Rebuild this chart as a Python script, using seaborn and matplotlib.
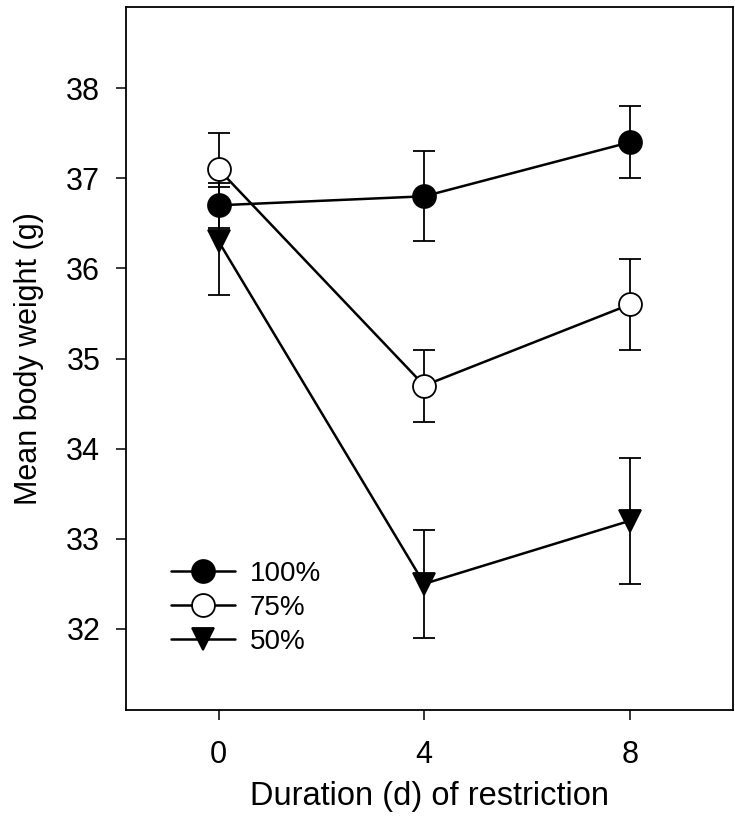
import numpy as np
import pandas as pd
import matplotlib
matplotlib.use("Agg")
import matplotlib.pyplot as plt
import seaborn as sns

days = [0, 4, 8]
groups = ["100%", "75%", "50%"]
mean_100 = [36.7, 36.8, 37.4]
err_100 = [0.25, 0.5, 0.4]
mean_75 = [37.1, 34.7, 35.6]
err_75 = [0.4, 0.4, 0.5]
mean_50 = [36.3, 32.5, 33.2]
err_50 = [0.6, 0.6, 0.7]

errs = {"100%": err_100, "75%": err_75, "50%": err_50}
markers = {"100%": "o", "75%": "o", "50%": "v"}
faces = {"100%": "black", "75%": "white", "50%": "black"}

df = pd.DataFrame({
    "day": days * 3,
    "weight": mean_100 + mean_75 + mean_50,
    "group": [g for g in groups for _ in days],
})

sns.set_style("ticks")
plt.rcParams["font.family"] = ["Liberation Sans", "DejaVu Sans"]
plt.rcParams["text.color"] = "black"
plt.rcParams["axes.labelcolor"] = "black"
plt.rcParams["xtick.color"] = "black"
plt.rcParams["ytick.color"] = "black"

fig = plt.figure(figsize=(7.35, 8.36), dpi=100)
ax = fig.add_axes([0.1714, 0.1507, 0.8256, 0.8409])

for g in groups:
    sub = df[df["group"] == g]
    ax.errorbar(sub["day"], sub["weight"], yerr=errs[g], fmt="none",
                ecolor="black", elinewidth=1.3, capsize=7.8, capthick=1.3, zorder=2)
    sns.lineplot(data=sub, x="day", y="weight", ax=ax, color="black",
                 linewidth=1.8, marker=markers[g], markersize=16.5,
                 markerfacecolor=faces[g], markeredgecolor="black",
                 markeredgewidth=1.3, label=g, zorder=3)

ax.set_xlim(-1.8, 10.0)
ax.set_ylim(31.1, 38.9)
ax.set_xticks(days)
ax.set_yticks([32, 33, 34, 35, 36, 37, 38])
ax.tick_params(axis="both", direction="out", length=7.5, width=1.1,
               labelsize=22, labelcolor="black", color="black")
ax.tick_params(axis="x", pad=14)
ax.tick_params(axis="y", pad=11)
for s in ax.spines.values():
    s.set_visible(True)
    s.set_linewidth(1.3)
    s.set_color("black")

ax.set_xlabel("Duration (d) of restriction", fontsize=23.5, labelpad=8, color="black")
ax.set_ylabel("Mean body weight (g)", fontsize=22, labelpad=16, color="black")

leg = ax.legend(loc="lower left", bbox_to_anchor=(0.074, 0.078), frameon=False,
                fontsize=20, handlelength=2.3, handletextpad=0.55, labelspacing=0.3,
                borderpad=0, borderaxespad=0)
for t in leg.get_texts():
    t.set_color("black")

fig.savefig("out.png", dpi=100)
